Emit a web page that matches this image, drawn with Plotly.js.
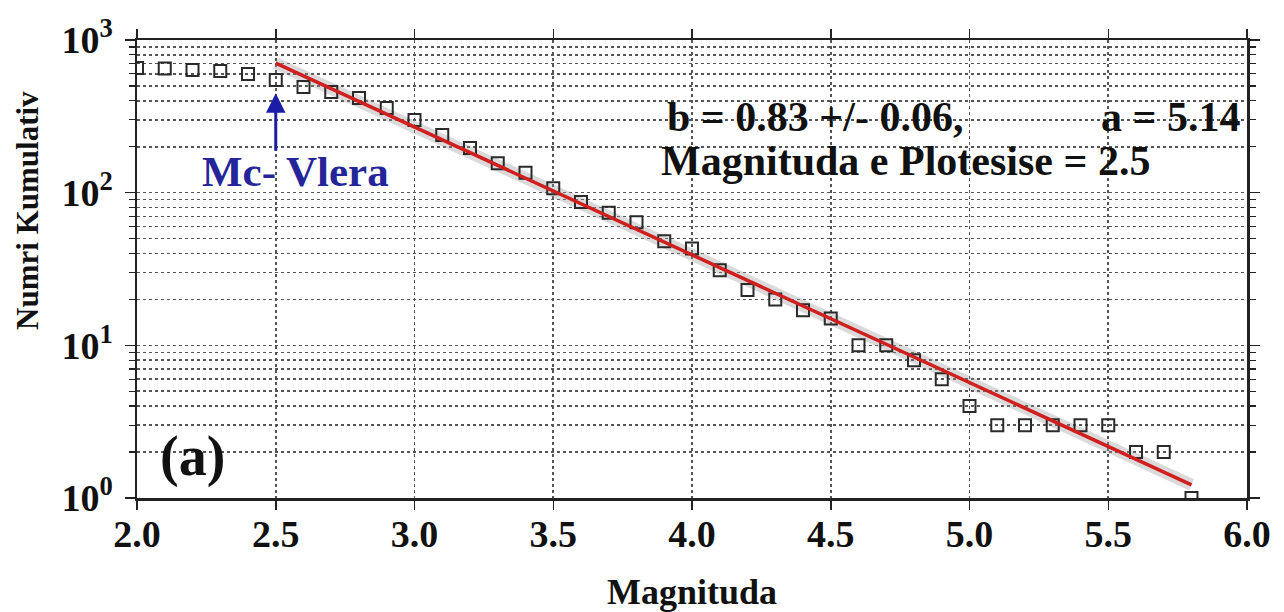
<!DOCTYPE html>
<html>
<head>
<meta charset="utf-8">
<script src="https://cdn.plot.ly/plotly-3.0.1.min.js"></script>
<style>html,body{margin:0;padding:0;background:#fff;}#chart{width:1284px;height:612px;}</style>
</head>
<body>
<div id="chart"></div>
<script>
// Data
const magnitude = [2.0, 2.1, 2.2, 2.3, 2.4, 2.5, 2.6, 2.7, 2.8, 2.9,
                   3.0, 3.1, 3.2, 3.3, 3.4, 3.5, 3.6, 3.7, 3.8, 3.9,
                   4.0, 4.1, 4.2, 4.3, 4.4, 4.5, 4.6, 4.7, 4.8, 4.9,
                   5.0, 5.1, 5.2, 5.3, 5.4, 5.5, 5.6, 5.7, 5.8];
const cumulativeCount = [656, 650, 636, 627, 599, 547, 492, 456, 417, 359,
                         299, 239, 196, 156, 135, 107, 87, 74, 64, 48,
                         43, 31, 23, 20, 17, 15, 10, 10, 8, 6,
                         4, 3, 3, 3, 3, 3, 2, 2, 1];
const fitMagnitude = [2.5, 5.8];
const fitCount = [705, 1.22];
const xTickVals = [2.0, 2.5, 3.0, 3.5, 4.0, 4.5, 5.0, 5.5, 6.0];
const xTickText = ['2.0', '2.5', '3.0', '3.5', '4.0', '4.5', '5.0', '5.5', '6.0'];
const yTickVals = [1, 10, 100, 1000];
const yTickText = ['10<sup>0</sup>', '10<sup>1</sup>', '10<sup>2</sup>', '10<sup>3</sup>'];
const mcValue = 2.5;
const bText = 'b = 0.83 +/- 0.06,';
const aText = 'a = 5.14';
const mcText = 'Magnituda e Plotesise = 2.5';
const xTitle = 'Magnituda';
const yTitle = 'Numri Kumulativ';

const serif = "'Liberation Serif', 'Times New Roman', serif";
const gridCol = '#555555';

const traces = [
  {
    x: fitMagnitude, y: fitCount, type: 'scatter', mode: 'lines',
    line: {color: 'rgba(150,150,150,0.35)', width: 12},
    hoverinfo: 'skip', showlegend: false
  },
  {
    x: magnitude, y: cumulativeCount, type: 'scatter', mode: 'markers',
    marker: {symbol: 'square-open', size: 12, color: '#2a2a2a', line: {width: 2, color: '#2a2a2a'}},
    showlegend: false
  },
  {
    x: fitMagnitude, y: fitCount, type: 'scatter', mode: 'lines',
    line: {color: '#d01f1f', width: 3.5},
    showlegend: false
  }
];

const layout = {
  width: 1284, height: 612,
  margin: {l: 137, r: 37, t: 40, b: 114},
  paper_bgcolor: '#ffffff', plot_bgcolor: '#ffffff',
  showlegend: false,
  font: {family: serif, color: '#111111'},
  xaxis: {
    range: [2.0, 6.0],
    tickmode: 'array', tickvals: xTickVals, ticktext: xTickText,
    ticks: 'outside', ticklen: 9, tickwidth: 1.5, tickcolor: '#222',
    showline: true, linecolor: '#222', linewidth: 2.5, mirror: 'ticks',
    showgrid: true, gridcolor: gridCol, griddash: 'dot', gridwidth: 1.6,
    zeroline: false,
    tickfont: {family: serif, size: 38, color: '#111', weight: 'bold'},
    ticklabelstandoff: -8,
    title: {text: '<b>' + xTitle + '</b>', font: {family: serif, size: 36, color: '#111'}, standoff: 26}
  },
  yaxis: {
    type: 'log', range: [0, 3],
    tickmode: 'array', tickvals: yTickVals, ticktext: yTickText,
    ticks: 'outside', ticklen: 10, tickwidth: 1.5, tickcolor: '#222',
    showline: true, linecolor: '#222', linewidth: 2.5, mirror: 'ticks',
    showgrid: true, gridcolor: gridCol, griddash: 'dot', gridwidth: 1.6,
    zeroline: false,
    tickfont: {family: serif, size: 38, color: '#111', weight: 'bold'},
    ticklabelstandoff: 4,
    minor: {dtick: 'D1', ticks: 'outside', ticklen: 6, tickwidth: 1.2, tickcolor: '#222',
            showgrid: true, gridcolor: gridCol, griddash: 'dot', gridwidth: 1.6}
  },
  annotations: [
    {xref: 'paper', yref: 'paper', x: -0.0982, y: 0.629, xanchor: 'center', yanchor: 'middle',
     textangle: -90, text: '<b>' + yTitle + '</b>', showarrow: false,
     font: {family: serif, size: 31, color: '#111'}},
    {xref: 'x', yref: 'paper', x: 4.443, y: 0.832, xanchor: 'center', yanchor: 'middle',
     text: '<b>' + bText + '</b>', showarrow: false, font: {family: serif, size: 42, color: '#111'}},
    {xref: 'x', yref: 'paper', x: 5.725, y: 0.832, xanchor: 'center', yanchor: 'middle',
     text: '<b>' + aText + '</b>', showarrow: false, font: {family: serif, size: 42, color: '#111'}},
    {xref: 'x', yref: 'paper', x: 4.768, y: 0.735, xanchor: 'center', yanchor: 'middle',
     text: '<b>' + mcText + '</b>', showarrow: false, font: {family: serif, size: 42, color: '#111'}},
    {xref: 'x', yref: 'paper', x: 2.57, y: 0.713, xanchor: 'center', yanchor: 'middle',
     text: '<b>Mc- Vlera</b>', showarrow: false, font: {family: serif, size: 43, color: '#25259a'}},
    {xref: 'x', yref: 'paper', x: mcValue, y: 0.884, ax: 0, ay: 59,
     text: '', showarrow: true, arrowhead: 2, arrowsize: 1.3, arrowwidth: 3, arrowcolor: '#1c1ca8'},
    {xref: 'x', yref: 'paper', x: 2.2, y: 0.09, xanchor: 'center', yanchor: 'middle',
     text: '<b>(a)</b>', showarrow: false, font: {family: serif, size: 56, color: '#111'}}
  ]
};

Plotly.newPlot('chart', traces, layout, {displayModeBar: false, staticPlot: true});
</script>
</body>
</html>
